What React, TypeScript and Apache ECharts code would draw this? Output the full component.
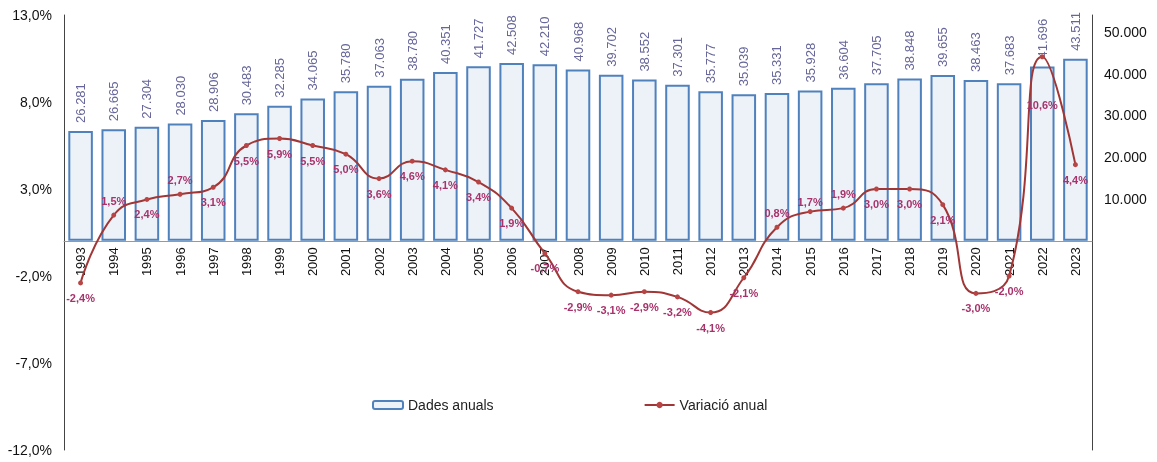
import React, { useEffect, useRef } from "react";
import * as echarts from "echarts";

const years = ["1993","1994","1995","1996","1997","1998","1999","2000","2001","2002","2003","2004","2005","2006","2007","2008","2009","2010","2011","2012","2013","2014","2015","2016","2017","2018","2019","2020","2021","2022","2023"];
const annualData = [26281,26665,27304,28030,28906,30483,32285,34065,35780,37063,38780,40351,41727,42508,42210,40968,39702,38552,37301,35777,35039,35331,35928,36604,37705,38848,39655,38463,37683,41696,43511];
const annualChange = [-2.4,1.5,2.4,2.7,3.1,5.5,5.9,5.5,5.0,3.6,4.6,4.1,3.4,1.9,-0.7,-2.9,-3.1,-2.9,-3.2,-4.1,-2.1,0.8,1.7,1.9,3.0,3.0,2.1,-3.0,-2.0,10.6,4.4];
const labelsAbove = ["1994","1996","2014","2015","2016"];
const leftTicks = { min: -12, max: 13, interval: 5 };
const rightTicks = { min: -50000, max: 54000, interval: 10000 };

const FONT = "Liberation Sans, Arial, sans-serif";
const TOP = 15;
const BOTTOM = 12;
const H = 462;

function fmtThousands(v: number): string {
  return String(Math.round(v)).replace(/\B(?=(\d{3})+(?!\d))/g, ".");
}
function fmtPct(v: number): string {
  return v.toFixed(1).replace(".", ",") + "%";
}

export default function App() {
  const ref = useRef<HTMLDivElement>(null);
  useEffect(() => {
    if (!ref.current) return;
    const chart = echarts.init(ref.current, null, { renderer: "svg" });
    const plotH = H - TOP - BOTTOM;
    const zeroY = TOP + plotH * (leftTicks.max / (leftTicks.max - leftTicks.min));
    const lineData = annualChange.map((v, i) => {
      const y = years[i];
      if (labelsAbove.includes(y)) {
        return { value: v, label: { position: "top", distance: y === "2015" ? 2 : 6 } };
      }
      if (y === "2022") {
        return { value: v, label: { position: "bottom", distance: 40 } };
      }
      return { value: v };
    });
    chart.setOption({
      animation: false,
      textStyle: { fontFamily: FONT },
      grid: [
        { left: 64, right: 65, top: TOP, bottom: BOTTOM, containLabel: false, outerBoundsMode: "none" },
        { left: 64, right: 65, top: TOP, bottom: H - zeroY, containLabel: false, outerBoundsMode: "none" },
      ],
      legend: {
        left: 367,
        top: 393,
        itemWidth: 30,
        itemHeight: 8,
        itemGap: 150,
        textStyle: { fontFamily: FONT, fontSize: 14, color: "#222" },
        data: ["Dades anuals", "Variació anual"],
      },
      xAxis: [
        {
          type: "category",
          gridIndex: 0,
          data: years,
          axisLine: { show: false },
          axisTick: { show: false },
          axisLabel: { show: false },
        },
        {
          type: "category",
          gridIndex: 1,
          data: years,
          axisLine: { show: true, onZero: false, lineStyle: { color: "#999", width: 1 } },
          axisTick: { show: false },
          axisLabel: { rotate: 90, fontSize: 13, color: "#111", fontFamily: FONT, margin: 6, interval: 0 },
          z: 0,
        },
      ],
      yAxis: [
        {
          type: "value",
          gridIndex: 0,
          min: leftTicks.min,
          max: leftTicks.max,
          interval: leftTicks.interval,
          splitLine: { show: false },
          axisLine: { show: true, lineStyle: { color: "#444", width: 1 } },
          axisTick: { show: false },
          axisLabel: { fontSize: 14, color: "#111", fontFamily: FONT, margin: 12, formatter: (v: number) => fmtPct(v) },
        },
        {
          type: "value",
          gridIndex: 0,
          min: rightTicks.min,
          max: rightTicks.max,
          interval: rightTicks.interval,
          splitLine: { show: false },
          axisLine: { show: true, lineStyle: { color: "#444", width: 1 } },
          axisTick: { show: false },
          axisLabel: {
            fontSize: 14,
            color: "#111",
            fontFamily: FONT,
            margin: 12,
            formatter: (v: number) => (v >= 10000 && v <= 50000 && v % 10000 === 0 ? fmtThousands(v) : ""),
          },
        },
        {
          type: "value",
          gridIndex: 1,
          min: 0,
          max: 1,
          show: false,
        },
      ],
      series: [
        {
          name: "Dades anuals",
          type: "bar",
          xAxisIndex: 0,
          yAxisIndex: 1,
          data: annualData,
          barCategoryGap: "26%",
          itemStyle: { color: "#edf2f9", borderColor: "#4f81bd", borderWidth: 2 },
          label: {
            show: true,
            position: "top",
            rotate: 90,
            align: "left",
            verticalAlign: "middle",
            distance: 8,
            fontSize: 13,
            color: "#66669a",
            fontFamily: FONT,
            formatter: (p: any) => fmtThousands(p.value),
          },
          z: 1,
        },
        {
          name: "Variació anual",
          type: "line",
          xAxisIndex: 0,
          yAxisIndex: 0,
          data: lineData,
          smooth: 0.5,
          symbol: "circle",
          symbolSize: 5,
          lineStyle: { color: "#a13636", width: 2 },
          itemStyle: { color: "#b84545" },
          label: {
            show: true,
            position: "bottom",
            distance: 7,
            fontSize: 11,
            fontWeight: "bold",
            color: "#a8336b",
            fontFamily: FONT,
            formatter: (p: any) => fmtPct(p.value),
          },
          z: 3,
        },
      ],
    });
    return () => chart.dispose();
  }, []);
  return <div ref={ref} style={{ position: "fixed", left: 0, top: 0, width: 1157, height: 462 }} />;
}
